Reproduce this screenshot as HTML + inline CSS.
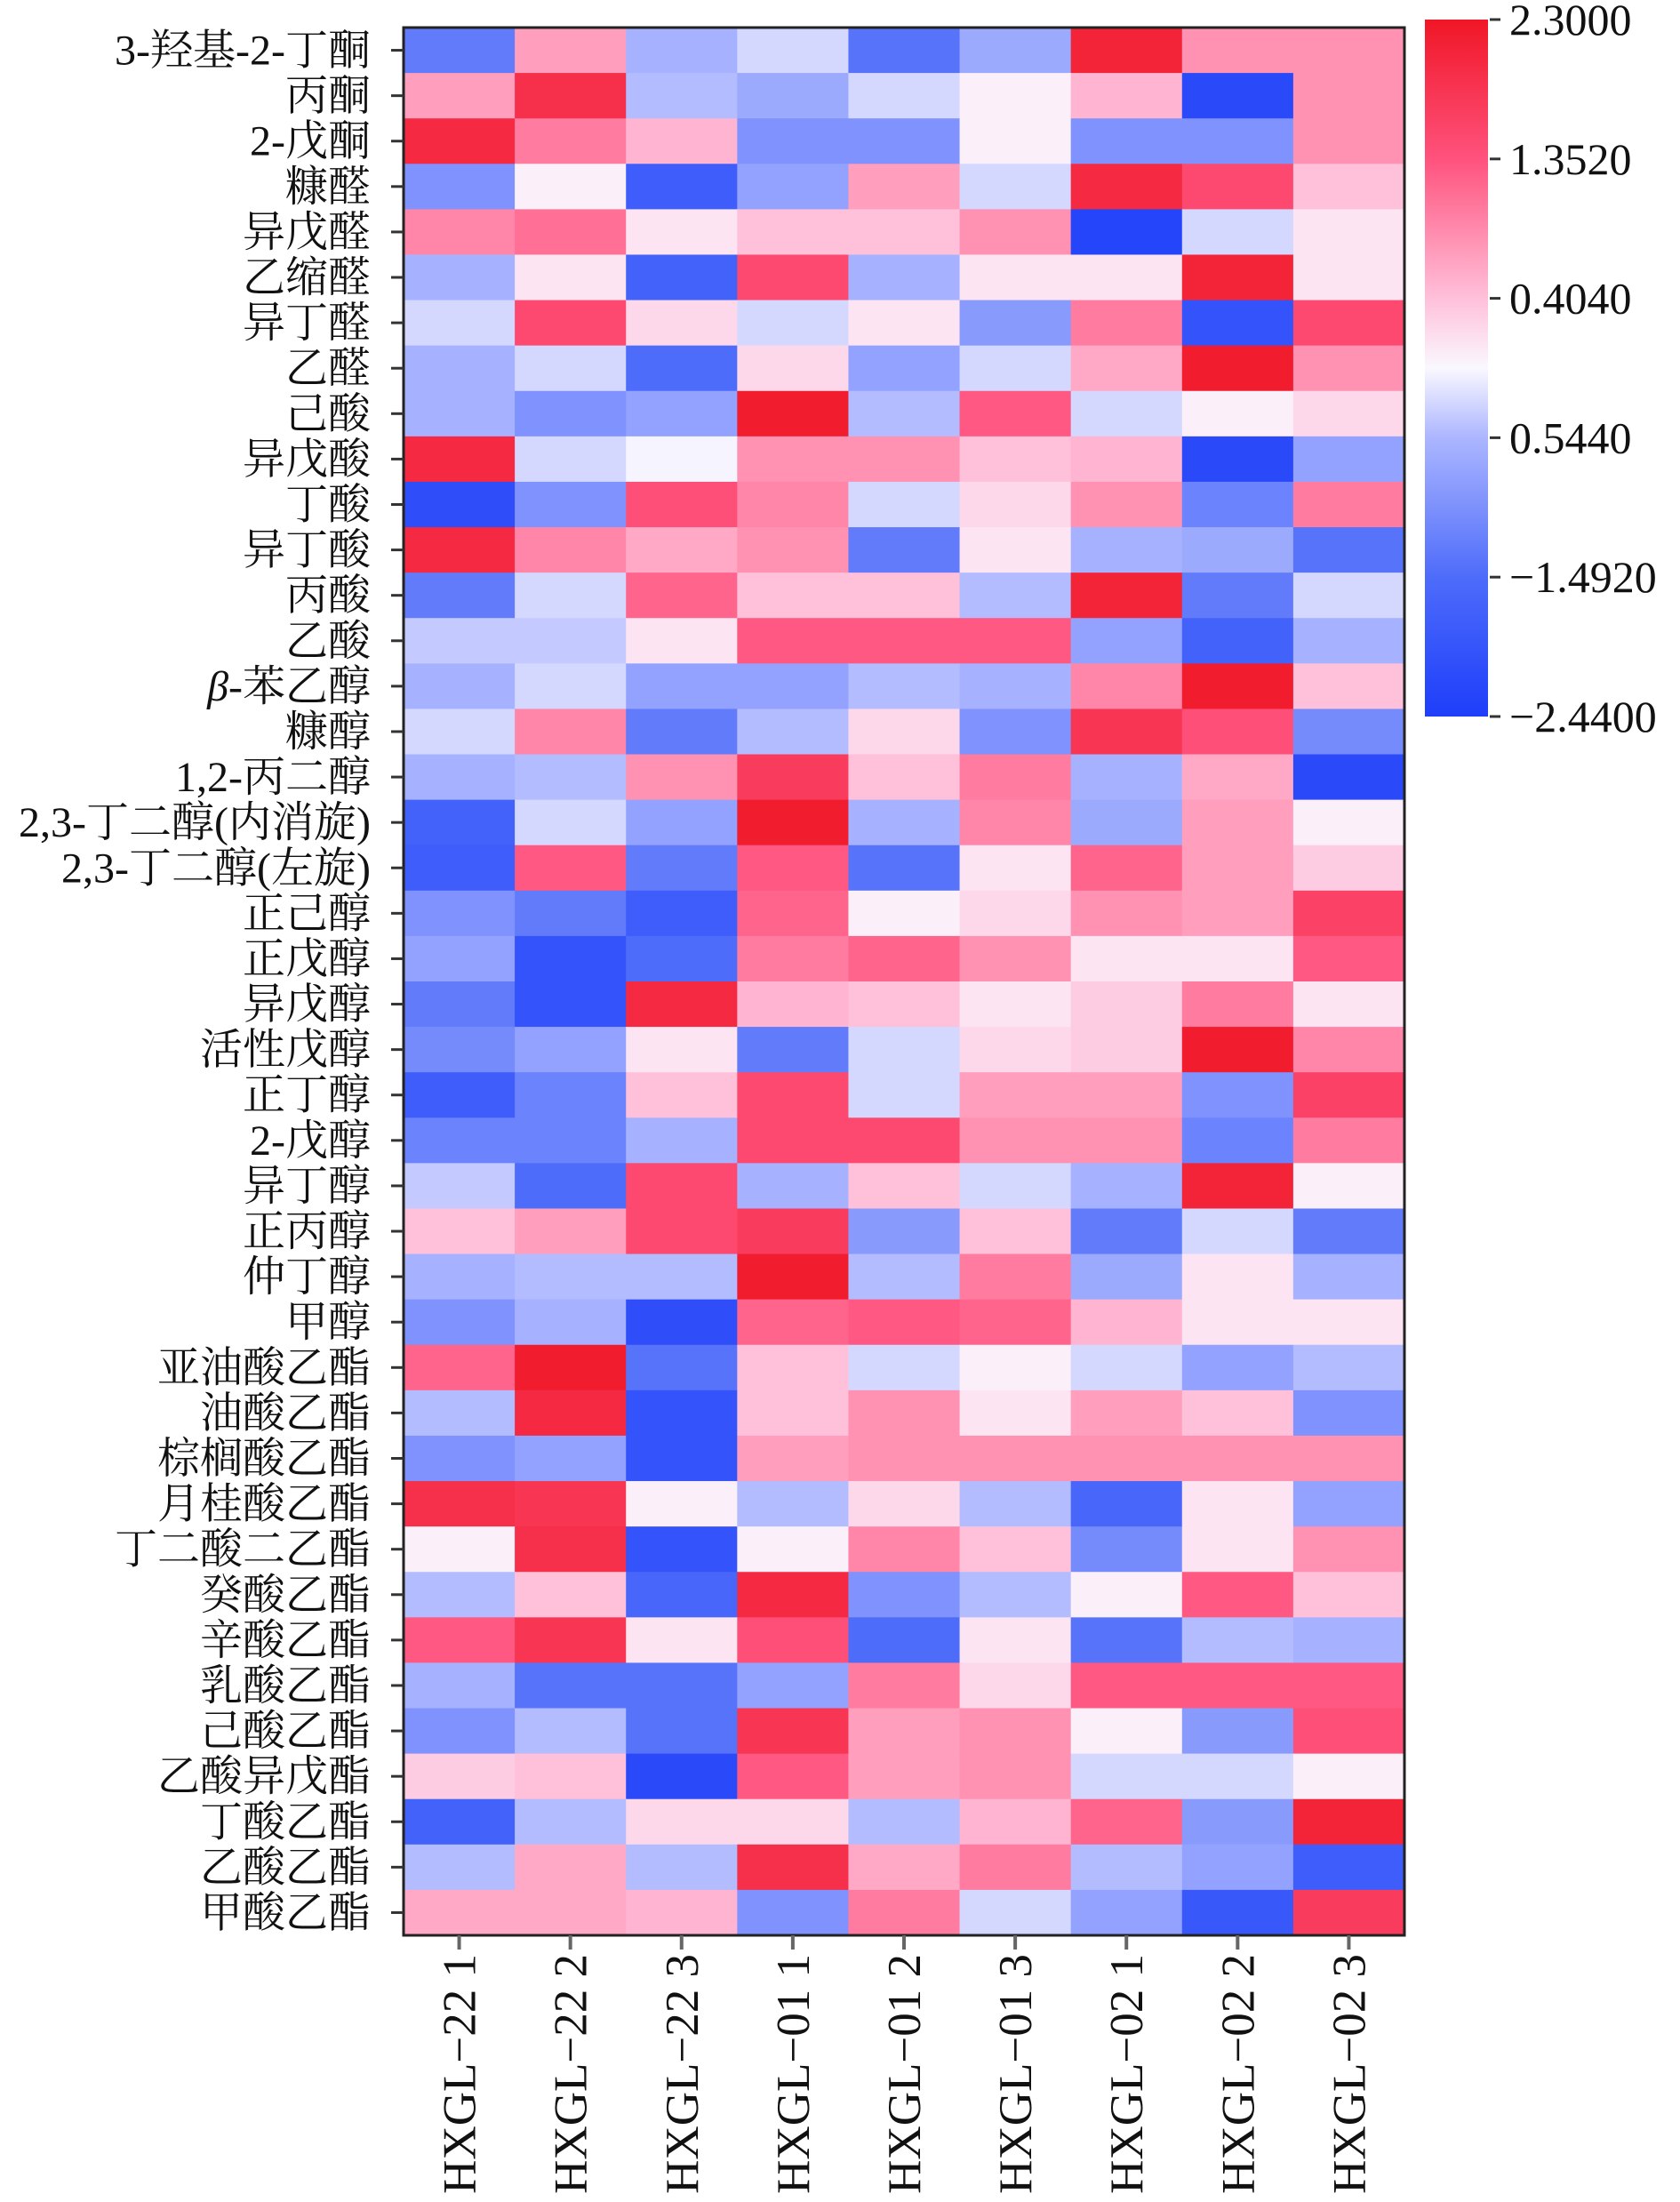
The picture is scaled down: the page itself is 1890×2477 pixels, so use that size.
<!DOCTYPE html>
<html><head><meta charset="utf-8">
<style>
html,body{margin:0;padding:0;background:#fff;}
svg{display:block;}
text{font-family:"Liberation Serif","Noto Serif CJK SC",serif;fill:#111;}
</style></head>
<body>
<svg id="chart" width="1890" height="2477" viewBox="0 0 1890 2477" xmlns="http://www.w3.org/2000/svg"></svg>
<script>
const rowLabels = ["3-羟基-2-丁酮","丙酮","2-戊酮","糠醛","异戊醛","乙缩醛","异丁醛","乙醛","己酸","异戊酸","丁酸","异丁酸","丙酸","乙酸","β-苯乙醇","糠醇","1,2-丙二醇","2,3-丁二醇(内消旋)","2,3-丁二醇(左旋)","正己醇","正戊醇","异戊醇","活性戊醇","正丁醇","2-戊醇","异丁醇","正丙醇","仲丁醇","甲醇","亚油酸乙酯","油酸乙酯","棕榈酸乙酯","月桂酸乙酯","丁二酸二乙酯","癸酸乙酯","辛酸乙酯","乳酸乙酯","己酸乙酯","乙酸异戊酯","丁酸乙酯","乙酸乙酯","甲酸乙酯"];
const colLabels = ["HXGL−22 1","HXGL−22 2","HXGL−22 3","HXGL−01 1","HXGL−01 2","HXGL−01 3","HXGL−02 1","HXGL−02 2","HXGL−02 3"];
const values = [
[-1.3,0.7,-0.6,-0.3,-1.4,-0.7,2.1,0.8,0.8],
[0.7,1.9,-0.5,-0.7,-0.3,0,0.5,-2.2,0.8],
[2.0,1.0,0.5,-1.0,-1.0,0,-1.0,-1.0,0.8],
[-1.0,0,-1.8,-0.8,0.7,-0.3,2.0,1.5,0.4],
[0.9,1.1,0.1,0.4,0.4,0.8,-2.3,-0.3,0.1],
[-0.6,0.1,-1.7,1.5,-0.6,0.1,0.1,2.1,0.1],
[-0.3,1.5,0.2,-0.3,0.1,-0.9,1.0,-2.0,1.5],
[-0.6,-0.3,-1.5,0.2,-0.8,-0.3,0.6,2.2,0.8],
[-0.6,-1.0,-0.8,2.2,-0.5,1.3,-0.3,0,0.2],
[2.0,-0.3,-0.1,0.8,0.8,0.4,0.5,-2.2,-0.8],
[-2.1,-1.0,1.4,0.9,-0.3,0.2,0.8,-1.2,1.0],
[2.0,0.9,0.6,0.8,-1.3,0.1,-0.6,-0.7,-1.4],
[-1.3,-0.3,1.2,0.4,0.4,-0.5,2.1,-1.3,-0.3],
[-0.4,-0.4,0.1,1.3,1.3,1.3,-0.8,-1.7,-0.6],
[-0.6,-0.3,-0.8,-0.8,-0.5,-0.6,0.9,2.2,0.4],
[-0.3,0.9,-1.3,-0.5,0.2,-1.0,1.8,1.4,-1.1],
[-0.6,-0.5,0.8,1.7,0.4,1.0,-0.6,0.6,-2.2],
[-1.7,-0.3,-0.8,2.2,-0.6,0.9,-0.7,0.7,0],
[-1.8,1.3,-1.3,1.3,-1.4,0.1,1.2,0.7,0.3],
[-1.0,-1.3,-1.8,1.2,0,0.2,0.8,0.7,1.6],
[-0.8,-2.0,-1.5,1.0,1.2,0.8,0.1,0.1,1.3],
[-1.3,-2.0,2.0,0.5,0.4,0.1,0.3,1.0,0.1],
[-1.1,-0.8,0.1,-1.3,-0.3,0.2,0.3,2.2,0.9],
[-1.8,-1.2,0.4,1.5,-0.3,0.7,0.7,-1.0,1.6],
[-1.2,-1.2,-0.6,1.5,1.5,0.8,0.8,-1.2,1.0],
[-0.4,-1.5,1.5,-0.6,0.4,-0.3,-0.6,2.1,0],
[0.4,0.7,1.5,1.7,-0.9,0.4,-1.3,-0.3,-1.3],
[-0.6,-0.5,-0.5,2.2,-0.5,1.0,-0.7,0.1,-0.6],
[-1.0,-0.6,-2.1,1.2,1.3,1.2,0.5,0.1,0.1],
[1.2,2.2,-1.4,0.4,-0.3,0,-0.3,-0.8,-0.5],
[-0.5,2.0,-2.0,0.4,0.8,0.1,0.7,0.4,-1.0],
[-1.0,-0.8,-2.0,0.7,0.8,0.8,0.8,0.8,0.8],
[1.9,1.8,0,-0.5,0.2,-0.5,-1.6,0.1,-0.8],
[0,1.9,-2.0,0,0.9,0.4,-1.1,0.1,0.8],
[-0.5,0.4,-1.6,2.0,-1.0,-0.5,0,1.3,0.4],
[1.3,1.8,0.1,1.4,-1.5,0.1,-1.4,-0.5,-0.6],
[-0.6,-1.4,-1.4,-0.8,1.0,0.2,1.3,1.3,1.3],
[-1.0,-0.5,-1.4,1.8,0.7,0.8,0,-0.9,1.4],
[0.3,0.4,-2.2,1.3,0.7,0.8,-0.3,-0.3,0],
[-1.7,-0.5,0.2,0.2,-0.5,0.5,1.2,-0.9,2.1],
[-0.5,0.6,-0.5,1.9,0.6,1.0,-0.5,-0.8,-1.8],
[0.6,0.6,0.5,-1.0,1.0,-0.3,-0.8,-1.9,1.7]
];
const cbTicks = [2.3,1.352,0.404,-0.544,-1.492,-2.44];
const cbTickLabels = ["2.3000","1.3520","0.4040","0.5440","−1.4920","−2.4400"];
const vmin = -2.44, vmax = 2.3;

const NS="http://www.w3.org/2000/svg";
const svg=document.getElementById('chart');
function mk(tag,attrs,parent){const e=document.createElementNS(NS,tag);for(const k in attrs)e.setAttribute(k,attrs[k]);(parent||svg).appendChild(e);return e;}

const stops=[[-2.44,[30,62,250]],[-1.49,[78,108,250]],[-0.544,[172,182,255]],[-0.07,[250,248,255]],[0.404,[255,192,218]],[1.352,[255,82,125]],[2.3,[240,22,38]]];
function color(v){
  v=Math.max(vmin,Math.min(vmax,v));
  for(let i=0;i<stops.length-1;i++){const a=stops[i],b=stops[i+1];
    if(v<=b[0]){const t=(v-a[0])/(b[0]-a[0]);const c=a[1].map((x,j)=>Math.round(x+(b[1][j]-x)*t));return `rgb(${c[0]},${c[1]},${c[2]})`;}}
  return 'rgb(240,22,38)';
}
const L=454,R=1580,T=31,B=2177;
const cw=(R-L)/colLabels.length, rh=(B-T)/rowLabels.length;
const xPos=i=>L+i*cw, yPos=i=>T+i*rh;

const gCells=mk('g',{});


values.forEach((row,r)=>row.forEach((v,c)=>{
  const el=mk('rect',{x:xPos(c),y:yPos(r),width:cw+0.6,height:rh+0.6,fill:color(v)},gCells);
  
  
}));
const frame=mk('rect',{x:L,y:T,width:R-L,height:B-T,fill:'none',stroke:'#222',"stroke-width":3});



const gY=mk('g',{});


rowLabels.forEach((lab,r)=>{
  const cy=yPos(r)+rh/2;
  mk('line',{x1:L-14,x2:L,y1:cy,y2:cy,stroke:'#333',"stroke-width":3},gY);
  const t=mk('text',{x:417,y:cy+16,"text-anchor":"end","font-size":48},gY);
  if(lab.startsWith('β')){const s=mk('tspan',{"font-style":"italic"},t);s.textContent='β';const s2=mk('tspan',{},t);s2.textContent=lab.slice(1);}
  else t.textContent=lab;
  
  
});

const gX=mk('g',{});


colLabels.forEach((lab,c)=>{
  const cx=xPos(c)+cw/2;
  mk('line',{x1:cx,x2:cx,y1:B,y2:B+16,stroke:'#666',"stroke-width":4},gX);
  const t=mk('text',{x:0,y:0,"text-anchor":"end","font-size":53,transform:`translate(${cx+18},${2198}) rotate(-90)`},gX);
  t.textContent=lab;
  
  
});

// colorbar
const cbL=1603,cbR=1674,cbT=22,cbB=806;
const gCb=mk('g',{});


const defs=mk('defs',{});
const grad=mk('linearGradient',{id:'cbg',x1:0,y1:0,x2:0,y2:1},defs);
for(let i=0;i<=40;i++){const v=vmax-(vmax-vmin)*i/40;mk('stop',{offset:(i/40),"stop-color":color(v)},grad);}
mk('rect',{x:cbL,y:cbT,width:cbR-cbL,height:cbB-cbT,fill:'url(#cbg)'},gCb);
const cbY=v=>cbT+(vmax-v)/(vmax-vmin)*(cbB-cbT);
cbTicks.forEach((v,i)=>{
  const y=cbY(v);
  mk('line',{x1:cbR+2,x2:cbR+14,y1:y,y2:y,stroke:'#333',"stroke-width":3},gCb);
  const t=mk('text',{x:cbR+24,y:y+17,"font-size":50},gCb);
  t.textContent=cbTickLabels[i];
  
  
});
</script>
</body></html>
